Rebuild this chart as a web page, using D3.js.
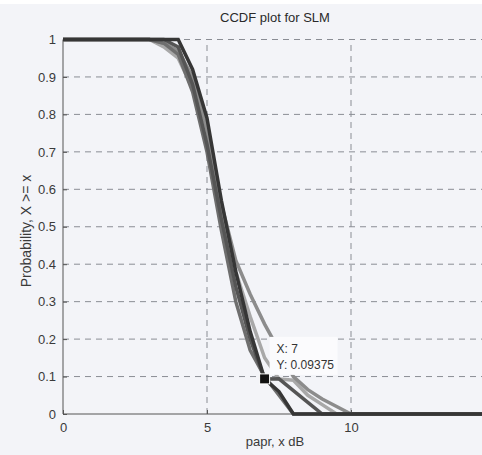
<!DOCTYPE html>
<html>
<head>
<meta charset="utf-8">
<script src="https://cdn.jsdelivr.net/npm/d3@7"></script>
<style>
  body { margin: 0; background: #f3f4f8; }
  text { font-family: "Liberation Sans", Arial, sans-serif; }
</style>
</head>
<body>
<div id="chart"></div>
<script>
// papr thresholds (dB) and ccdf for each run
const papr = [0, 1, 2, 3, 3.5, 4, 4.5, 5, 5.5, 6, 6.5, 7, 7.5, 8, 8.5, 9, 9.5, 10, 11, 12, 13, 14, 15];
const slm1 = [1, 1, 1, 1, 1, 1, 0.92, 0.79, 0.57, 0.38, 0.22, 0.09375, 0.06, 0, 0, 0, 0, 0, 0, 0, 0, 0, 0];
const slm2 = [1, 1, 1, 1, 1, 0.98, 0.88, 0.72, 0.52, 0.34, 0.2, 0.09375, 0.094, 0.0625, 0.031, 0, 0, 0, 0, 0, 0, 0, 0];
const slm3 = [1, 1, 1, 1, 0.99, 0.96, 0.86, 0.7, 0.49, 0.3, 0.17, 0.1, 0.05, 0, 0, 0, 0, 0, 0, 0, 0, 0, 0];
const slm4 = [1, 1, 1, 1, 0.99, 0.97, 0.9, 0.76, 0.56, 0.41, 0.32, 0.24, 0.17, 0.1, 0.065, 0.04, 0.02, 0, 0, 0, 0, 0, 0];
const slm5 = [1, 1, 1, 1, 0.98, 0.95, 0.87, 0.74, 0.54, 0.38, 0.26, 0.15, 0.09375, 0.09, 0.05, 0.025, 0, 0, 0, 0, 0, 0, 0];
const series = [slm5, slm4, slm3, slm2, slm1];
const shades = ["#a8a8a8", "#8c8c8c", "#6e6e6e", "#555555", "#363636"];
const yTicks = [0, 0.1, 0.2, 0.3, 0.4, 0.5, 0.6, 0.7, 0.8, 0.9, 1];
const xTicks = [0, 5, 10];
const tipX = 7, tipY = 0.09375;

const W = 482, H = 455;
const svg = d3.select("#chart").append("svg")
  .attr("width", W).attr("height", H);

svg.append("rect").attr("width", W).attr("height", 4).attr("fill", "#fff");

const x = d3.scaleLinear().domain([0, 15]).range([63, 495]);
const y = d3.scaleLinear().domain([0, 1]).range([414, 39.5]);

// grid
svg.append("g").selectAll("line").data(yTicks.slice(1))
  .enter().append("line")
  .attr("x1", x(0)).attr("x2", W)
  .attr("y1", d => y(d)).attr("y2", d => y(d))
  .attr("stroke", "#8a8d94").attr("stroke-width", 1)
  .attr("stroke-dasharray", "6,5");
svg.append("g").selectAll("line").data(xTicks.slice(1))
  .enter().append("line")
  .attr("x1", d => x(d)).attr("x2", d => x(d))
  .attr("y1", y(0)).attr("y2", y(1))
  .attr("stroke", "#8a8d94").attr("stroke-width", 1)
  .attr("stroke-dasharray", "6,5");

// axes
const yAxis = svg.append("g").attr("transform", "translate(" + x(0) + ",0)")
  .call(d3.axisLeft(y).tickValues(yTicks).tickSize(-4).tickPadding(7)
    .tickFormat(d => d === 0 || d === 1 ? d3.format("d")(d) : d3.format(".1f")(d)));
const xAxis = svg.append("g").attr("transform", "translate(0," + y(0) + ")")
  .call(d3.axisBottom(x).tickValues(xTicks).tickSize(-4).tickPadding(9));
[xAxis, yAxis].forEach(a => {
  a.select(".domain").attr("stroke", "#555").attr("stroke-width", 1);
  a.selectAll(".tick line").attr("stroke", "#555");
  a.selectAll("text").attr("fill", "#3a3a3a").style("font-size", "13px");
});
yAxis.select(".domain").attr("d", "M0," + y(0) + "V" + y(1));
xAxis.select(".domain").attr("d", "M" + x(0) + ",0H" + W);

// curves
const line = d3.line().x((d, i) => x(papr[i])).y(d => y(d));
svg.append("g").selectAll("path").data(series)
  .enter().append("path")
  .attr("d", line)
  .attr("fill", "none")
  .attr("stroke", (d, i) => shades[i])
  .attr("stroke-width", 3.5)
  .attr("stroke-linejoin", "miter");

// datatip
const tip = svg.append("g");
tip.append("rect")
  .attr("x", x(tipX) + 5).attr("y", y(tipY) - 42)
  .attr("width", 68).attr("height", 38)
  .attr("fill", "#fbfbfd");
tip.append("text").attr("x", x(tipX) + 12).attr("y", y(tipY) - 26)
  .attr("fill", "#333").style("font-size", "12px").text("X: " + tipX);
tip.append("text").attr("x", x(tipX) + 12).attr("y", y(tipY) - 10)
  .attr("fill", "#333").style("font-size", "12px").text("Y: " + tipY);
tip.append("rect")
  .attr("x", x(tipX) - 5).attr("y", y(tipY) - 5)
  .attr("width", 10).attr("height", 10)
  .attr("fill", "#111").attr("stroke", "#fff").attr("stroke-width", 1);

// labels
svg.append("text").attr("x", 275).attr("y", 22)
  .attr("text-anchor", "middle").attr("fill", "#2a2a2a")
  .style("font-size", "13px").text("CCDF plot for SLM");
svg.append("text").attr("x", 275).attr("y", 446)
  .attr("text-anchor", "middle").attr("fill", "#3a3a3a")
  .style("font-size", "13px").text("papr, x dB");
svg.append("text")
  .attr("transform", "translate(31,231) rotate(-90)")
  .attr("text-anchor", "middle").attr("fill", "#3a3a3a")
  .style("font-size", "14px").text("Probability, X >= x");
</script>
</body>
</html>
